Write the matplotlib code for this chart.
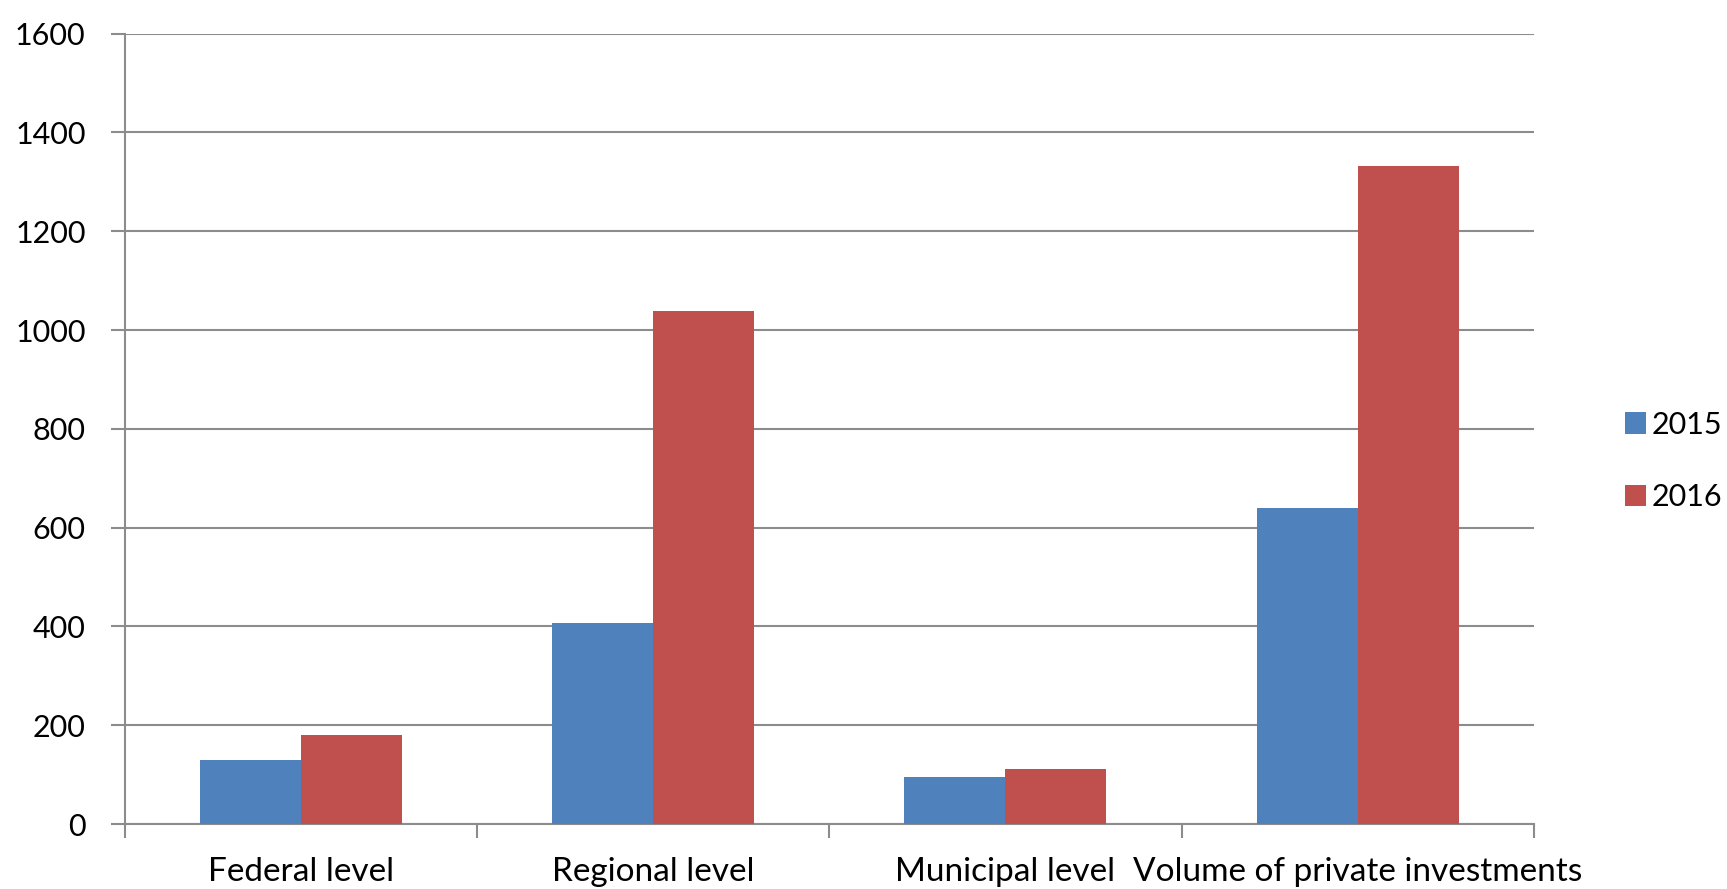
import matplotlib
matplotlib.use("Agg")
import matplotlib.pyplot as plt
import numpy as np

categories = ["Federal level", "Regional level", "Municipal level", "Volume of private investments"]
series_names = ["2015", "2016"]
values_2015 = [130, 406, 95, 640]
values_2016 = [180, 1038, 112, 1332]
yticks = [0, 200, 400, 600, 800, 1000, 1200, 1400, 1600]
colors = ["#4F81BD", "#C0504D"]

plt.rcParams['font.family'] = ['Lato', 'DejaVu Sans']

fig = plt.figure(figsize=(17.27, 8.89), dpi=100)
ax = fig.add_axes([124.5/1727, 1-824/889, (1534-124.5)/1727, (824-33.6)/889])

x = np.arange(len(categories))
w = 0.2865
ax.bar(x - w/2, values_2015, width=w, color=colors[0], label=series_names[0], zorder=3)
ax.bar(x + w/2, values_2016, width=w, color=colors[1], label=series_names[1], zorder=3)

ax.set_xlim(-0.5, len(categories) - 0.5)
ax.set_ylim(0, 1600)
ax.set_yticks(yticks)
ax.set_yticklabels([str(v) for v in yticks], fontsize=22)
ax.yaxis.grid(True, color="#8c8c8c", linewidth=1.5, zorder=0)
ax.set_axisbelow(True)

ax.set_xticks(np.arange(len(categories) + 1) - 0.5)
ax.set_xticklabels([])
ax.set_xticks(x, minor=True)
ax.set_xticklabels(categories, minor=True, fontsize=24)
ax.tick_params(axis='x', which='minor', length=0, pad=24)
ax.tick_params(axis='x', which='major', length=10, width=1.5, color="#8c8c8c", direction='out')
ax.tick_params(axis='y', length=10, width=1.5, color="#8c8c8c", pad=18)

for s in ["top", "right"]:
    ax.spines[s].set_visible(False)
for s in ["left", "bottom"]:
    ax.spines[s].set_color("#8c8c8c")
    ax.spines[s].set_linewidth(1.5)

fig.legend(loc="center left", bbox_to_anchor=(1597/1727, 1-461/889), frameon=False,
           fontsize=22, handlelength=0.7, handleheight=0.7, handletextpad=0.2,
           labelspacing=1.45)

fig.savefig("out.png", dpi=100)
